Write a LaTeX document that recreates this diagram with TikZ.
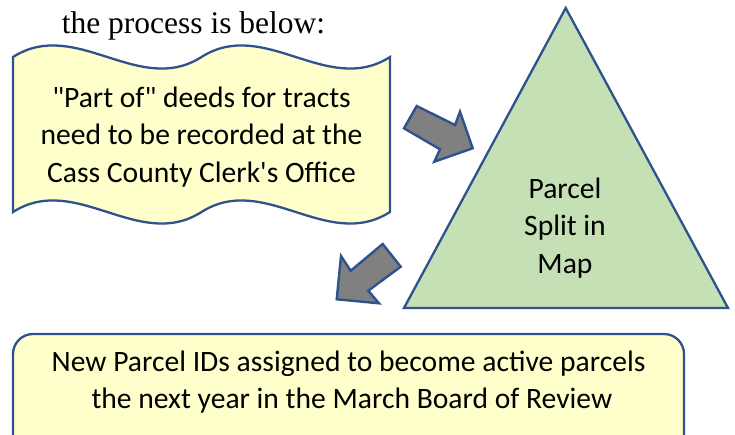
\documentclass[tikz,border=0pt]{standalone}
\usepackage{fontspec}
\setmainfont{Liberation Serif}
\newfontfamily\calib{Carlito}
\definecolor{edgeblue}{HTML}{2F528F}
\definecolor{paleyel}{HTML}{FFFFCC}
\definecolor{palegreen}{HTML}{C5E0B4}
\definecolor{arrowgray}{HTML}{808080}
\tikzset{
  shapeline/.style={draw=edgeblue, line width=2.3pt, line join=miter},
  bodytext/.style={font=\calib\fontsize{29.6}{37.5}\selectfont, align=center, text=black, inner sep=0pt},
  blockarrow/.style={shapeline, fill=arrowgray, line width=2.4pt},
}
\begin{document}
\begin{tikzpicture}[x=1pt, y=-1pt]
\useasboundingbox (0,0) rectangle (735,434);
\clip (0,0) rectangle (735,434);
% title
\node[anchor=base, inner sep=0pt, font=\fontsize{31.5}{36}\selectfont] (title) at (193.5,33) {the process is below:};
% double wave document
\def\P{188.5}
\def\A{40}
\draw[shapeline, fill=paleyel]
  (13,57) .. controls (13+\P/3,57-\A) and (13+2*\P/3,57+\A) .. (13+\P,57)
          .. controls (13+\P+\P/3,57-\A) and (13+\P+2*\P/3,57+\A) .. (390,57)
  -- (390,212)
          .. controls (13+\P+2*\P/3,212+\A) and (13+\P+\P/3,212-\A) .. (13+\P,212)
          .. controls (13+2*\P/3,212+\A) and (13+\P/3,212-\A) .. (13,212)
  -- cycle;
\node[bodytext] (doc) at (201.5,137) {"Part of" deeds for tracts\\need to be recorded at the\\Cass County Clerk's Office};
% triangle
\coordinate (apex) at (565.7,8);
\coordinate (bl) at (404,308);
\coordinate (br) at (728,308);
\draw[shapeline, fill=palegreen] (apex) -- (br) -- (bl) -- cycle;
\node[bodytext] (tri) at (565,228) {Parcel\\Split in\\Map};
% bottom box
\draw[shapeline, fill=paleyel, rounded corners=20pt] (13,334) rectangle (684,470);
\node[bodytext] (box) at (348.5,382) {New Parcel IDs assigned to become active parcels\\\ the next year in the March Board of Review};
% block arrow 1 (doc -> triangle)
\draw[blockarrow] (416.7,106) -- (455,125) -- (460,111.7) -- (472.7,148.3) -- (434.3,161.7) -- (440,149.3) -- (404,128.3) -- cycle;
% block arrow 2 (triangle -> box)
\draw[blockarrow] (382.7,244) -- (400.7,266.7) -- (368.3,290.7) -- (379,303.3) -- (336.7,299.3) -- (341,256) -- (350.7,270.7) -- cycle;
\end{tikzpicture}
\end{document}
